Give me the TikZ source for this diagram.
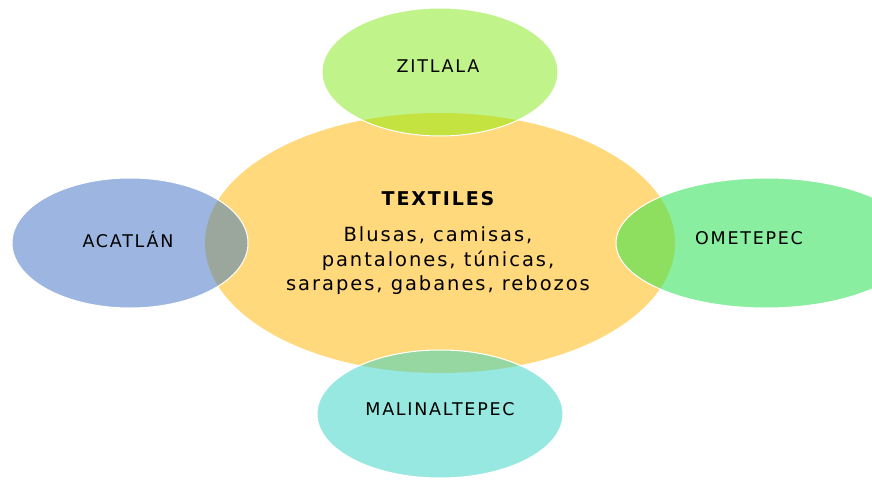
\documentclass[tikz,border=0pt]{standalone}
\usepackage{fontspec}
\setmainfont{DejaVu Sans}
\newfontfamily\lblfont[LetterSpace=10]{DejaVu Sans}
\newfontfamily\bodyfont[LetterSpace=10]{DejaVu Sans}
\newfontfamily\headfont[LetterSpace=10]{DejaVu Sans Bold}
\definecolor{cMain}{RGB}{255,217,124}
\definecolor{cTop}{RGB}{192,244,138}
\definecolor{cTopX}{RGB}{196,226,64}
\definecolor{cLeft}{RGB}{157,181,225}
\definecolor{cLeftX}{RGB}{155,166,156}
\definecolor{cRight}{RGB}{138,238,160}
\definecolor{cRightX}{RGB}{142,222,96}
\definecolor{cBot}{RGB}{150,232,224}
\definecolor{cBotX}{RGB}{150,214,160}
\tikzset{
  outer/.style={draw=white, line width=1pt},
  lbl/.style={font=\fontsize{17.5}{20}\lblfont, text=black, inner sep=0pt},
}
\begin{document}
\begin{tikzpicture}[x=1pt,y=1pt]
\useasboundingbox (0,0) rectangle (872,480);
\clip (0,0) rectangle (872,480);
\def\mainpath{(440,237) ellipse [x radius=235, y radius=130]}
% central
\fill[cMain] \mainpath;
% outer ellipses
\fill[cTop] (440,408) ellipse [x radius=118, y radius=64];
\fill[cLeft] (130,237) ellipse [x radius=118, y radius=65];
\fill[cRight] (766,237) ellipse [x radius=150, y radius=65];
\fill[cBot] (440,66) ellipse [x radius=123, y radius=64];
% overlaps
\begin{scope}
  \clip \mainpath;
  \fill[cTopX] (440,408) ellipse [x radius=118, y radius=64];
  \fill[cLeftX] (130,237) ellipse [x radius=118, y radius=65];
  \fill[cRightX] (766,237) ellipse [x radius=150, y radius=65];
  \fill[cBotX] (440,66) ellipse [x radius=123, y radius=64];
\end{scope}
% outlines
\draw[outer] (440,408) ellipse [x radius=118, y radius=64];
\draw[outer] (130,237) ellipse [x radius=118, y radius=65];
\draw[outer] (766,237) ellipse [x radius=150, y radius=65];
\draw[outer] (440,66) ellipse [x radius=123, y radius=64];
% texts
\node[lbl] (zit) at (438,414) {ZITLALA};
\node[lbl] (aca) at (128,240) {ACATLÁN};
\node[lbl] (ome) at (749,242) {OMETEPEC};
\node[lbl] (mal) at (440,71) {MALINALTEPEC};
\node[inner sep=0pt, font=\fontsize{19}{22}\headfont] (tex) at (438,281) {TEXTILES};
\node[inner sep=0pt, align=center, font=\fontsize{19.5}{24.5}\bodyfont] (body) at (438,219)
  {Blusas, camisas,\\ pantalones, túnicas,\\ sarapes, gabanes, rebozos};
\end{tikzpicture}
\end{document}
